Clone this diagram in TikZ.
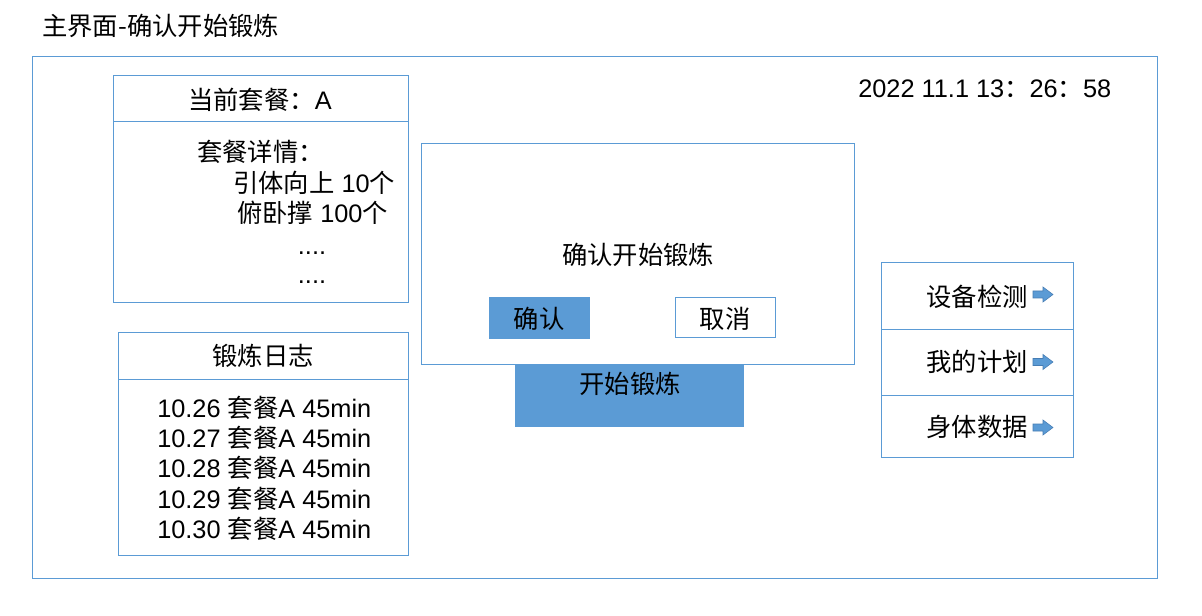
\documentclass[tikz,border=0pt]{standalone}
\usepackage{fontspec}
\setmainfont{Liberation Sans}
\newfontfamily\cjk{Noto Sans CJK SC}
\definecolor{bord}{RGB}{91,155,213}
\definecolor{bfill}{RGB}{91,155,213}
\definecolor{adraw}{RGB}{70,125,180}
\tikzset{
  box/.style={draw=bord, line width=0.75pt, fill=white},
  fbox/.style={draw=bord, line width=0.75pt, fill=bfill},
  txt/.style={inner sep=0pt, yshift=-3.75pt, font=\fontsize{19pt}{22pt}\selectfont, text height=0.85em, text depth=0.15em},
  pics/menuarrow/.style={code={
    \draw[fill=bfill, draw=adraw, line width=0.4pt]
      (0,-3.5) -- (10,-3.5) -- (10,-7.5) -- (20,0) -- (10,7.5) -- (10,3.5) -- (0,3.5) -- cycle;
  }}
}
\begin{document}
\begin{tikzpicture}[x=0.75pt,y=-0.75pt]
\useasboundingbox (0,0) rectangle (1202,616);
% title
\node[txt, anchor=west] (title) at (42,26) {\cjk 主界面-确认开始锻炼};
% outer frame
\draw[box] (32,57) rectangle (1157,578);
% package box
\draw[box] (113,76) rectangle (408,303);
\draw[draw=bord, line width=0.75pt] (113,122) -- (408,122);
\node[txt] (pkg) at (260,100) {{\cjk 当前套餐：}A};
\node[txt, anchor=west] (det) at (197,152) {\cjk 套餐详情：};
\node[txt, anchor=west] (d1) at (233,183) {{\cjk 引体向上} 10{\cjk 个}};
\node[txt, anchor=west] (d2) at (237,213) {{\cjk 俯卧撑} 100{\cjk 个}};
\node[txt] (d3) at (312,245) {....};
\node[txt] (d4) at (312,274) {....};
% log box
\draw[box] (118,333) rectangle (408,555);
\draw[draw=bord, line width=0.75pt] (118,379) -- (408,379);
\node[txt] (log) at (263,356) {\cjk 锻炼日志};
\node[txt, anchor=west] (l1) at (157,408) {10.26 {\cjk 套餐}A 45min};
\node[txt, anchor=west] (l2) at (157,438) {10.27 {\cjk 套餐}A 45min};
\node[txt, anchor=west] (l3) at (157,468) {10.28 {\cjk 套餐}A 45min};
\node[txt, anchor=west] (l4) at (157,499) {10.29 {\cjk 套餐}A 45min};
\node[txt, anchor=west] (l5) at (157,529) {10.30 {\cjk 套餐}A 45min};
% date
\node[txt, anchor=west] (date) at (858,88) {2022 11.1 13{\cjk ：}26{\cjk ：}58};
% start button
\draw[fill=bfill, draw=none] (515,364) rectangle (744,427);
\node[txt] (start) at (630,384) {\cjk 开始锻炼};
% dialog
\draw[box] (421,144) rectangle (854,364);
\node[txt] (dlg) at (638,255) {\cjk 确认开始锻炼};
\draw[fbox] (489,298) rectangle (589,339);
\node[txt] (ok) at (539,319) {\cjk 确认};
\draw[box] (675,298) rectangle (775,338);
\node[txt] (cancel) at (725,319) {\cjk 取消};
% right menu
\draw[box] (881,263) rectangle (1073,457);
\draw[draw=bord, line width=0.75pt] (881,330) -- (1073,330);
\draw[draw=bord, line width=0.75pt] (881,395) -- (1073,395);
\node[txt, anchor=east] (m1) at (1028,297) {\cjk 设备检测};
\node[txt, anchor=east] (m2) at (1028,362) {\cjk 我的计划};
\node[txt, anchor=east] (m3) at (1028,427) {\cjk 身体数据};
\pic at (1033,294.5) {menuarrow};
\pic at (1033,362) {menuarrow};
\pic at (1033,427.5) {menuarrow};
\end{tikzpicture}
\end{document}
